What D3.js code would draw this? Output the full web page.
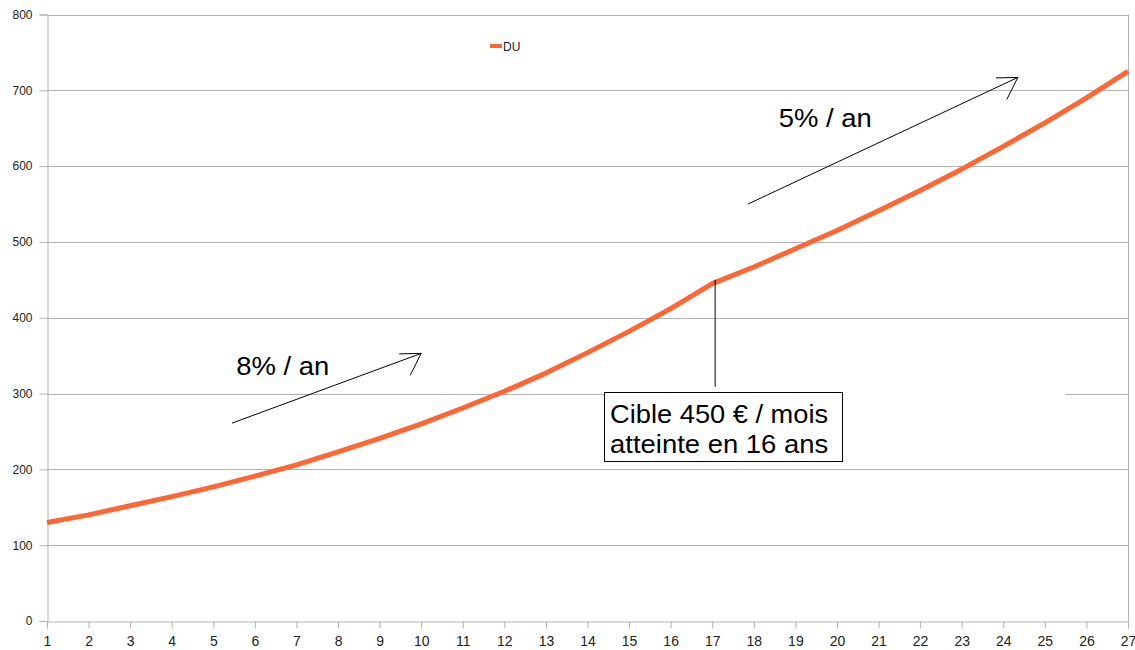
<!DOCTYPE html>
<html>
<head>
<meta charset="utf-8">
<script src="https://cdn.jsdelivr.net/npm/d3@7"></script>
<style>
  body { margin: 0; background: #fff; }
  svg { display: block; font-family: Arial, "Liberation Sans", sans-serif; }
</style>
</head>
<body>
<div id="chart"></div>
<script>
var years = d3.range(1, 28);
var du = [130, 140, 152, 164, 177, 191, 206, 223, 241, 260, 281, 303, 327, 354,
          382, 412, 445, 467, 491, 515, 541, 568, 596, 626, 657, 690, 725];
var yTicks = [0, 100, 200, 300, 400, 500, 600, 700, 800];
var seriesName = "DU";

var width = 1135, height = 650;
var margin = {top: 14.5, left: 47, right: 7, bottom: 29};

var svg = d3.select("#chart").append("svg")
    .attr("width", width)
    .attr("height", height);

var x = d3.scaleLinear().domain([1, 27]).range([margin.left, width - margin.right]);
var y = d3.scaleLinear().domain([0, 800]).range([height - margin.bottom, margin.top]);

var grid = "#b3b3b3";

// horizontal gridlines
svg.append("g").selectAll("line").data(yTicks.slice(1)).enter().append("line")
    .attr("x1", x(1)).attr("x2", x(27))
    .attr("y1", function (d) { return Math.round(y(d)) + 0.5; })
    .attr("y2", function (d) { return Math.round(y(d)) + 0.5; })
    .attr("stroke", grid);

// right border
svg.append("line")
    .attr("x1", Math.round(x(27)) + 0.5).attr("x2", Math.round(x(27)) + 0.5)
    .attr("y1", y(800)).attr("y2", y(0))
    .attr("stroke", grid);

// axes
var yAxis = d3.axisLeft(y).tickValues(yTicks).tickSize(8).tickPadding(7);
var gy = svg.append("g").attr("transform", "translate(" + (Math.round(x(1)) + 0.5) + ",0)").call(yAxis);
var xAxis = d3.axisBottom(x).tickValues(years).tickSize(7).tickPadding(8);
var gx = svg.append("g").attr("transform", "translate(0," + (Math.round(y(0)) + 0.5) + ")").call(xAxis);

[gx, gy].forEach(function (g) {
    g.select(".domain").attr("stroke", grid);
    g.selectAll(".tick line").attr("stroke", grid);
    g.selectAll(".tick text").attr("fill", "#222")
        .style("font-family", "Arial, 'Liberation Sans', sans-serif");
});
gy.selectAll(".tick text").style("font-size", "12px");
gx.selectAll(".tick text").style("font-size", "14px");

// piece of the 300 gridline hidden behind the annotation (as in the picture)
svg.append("rect")
    .attr("x", x(20.12)).attr("width", x(25.5) - x(20.12))
    .attr("y", y(300) - 2).attr("height", 4)
    .attr("fill", "#fff");

// series
var line = d3.line()
    .x(function (d, i) { return x(years[i]); })
    .y(function (d) { return y(d); });

svg.append("path")
    .datum(du)
    .attr("d", line)
    .attr("fill", "none")
    .attr("stroke", "#ff6633")
    .attr("stroke-width", 5)
    .attr("stroke-linejoin", "round");

// legend
var leg = svg.append("g").attr("transform", "translate(490,46)");
leg.append("line").attr("x1", 0).attr("x2", 12).attr("y1", 0).attr("y2", 0)
    .attr("stroke", "#ff6633").attr("stroke-width", 4);
leg.append("text").attr("x", 13).attr("y", 5).text(seriesName)
    .style("font-size", "12px").attr("fill", "#222");

// annotations, placed in data units
function arrow(x0, y0, x1, y1) {
    var px = x(x1), py = y(y1);
    svg.append("line")
        .attr("x1", x(x0)).attr("y1", y(y0)).attr("x2", px).attr("y2", py)
        .attr("stroke", "#000").attr("stroke-width", 1);
    // open "7" shaped head
    svg.append("path")
        .attr("d", "M" + (px - 22) + "," + (py + 0.5) + "L" + px + "," + py + "L" + (px - 11) + "," + (py + 22))
        .attr("fill", "none").attr("stroke", "#000").attr("stroke-width", 1);
}

arrow(5.45, 261, 10, 353);
arrow(17.86, 550, 24.35, 717);

// the picture's text is a bit wider than plain Arial, stretch it a little
function label(px, py, txt, len) {
    return svg.append("text").attr("x", px).attr("y", py).text(txt)
        .attr("textLength", len).attr("lengthAdjust", "spacingAndGlyphs")
        .style("font-size", "25px").attr("fill", "#000");
}

label(x(5.55), y(325), "8% / an", 93);
label(x(18.6), y(652), "5% / an", 93);

// target marker and box
svg.append("line")
    .attr("x1", x(17.07)).attr("x2", x(17.07))
    .attr("y1", y(450)).attr("y2", y(309))
    .attr("stroke", "#000").attr("stroke-width", 1);

var bx = x(14.4), by = y(302);
svg.append("rect")
    .attr("x", Math.round(bx) + 0.5).attr("y", Math.round(by) + 0.5)
    .attr("width", Math.round(x(20.12) - bx)).attr("height", Math.round(y(211) - by))
    .attr("fill", "#fff").attr("stroke", "#000").attr("stroke-width", 1);

label(bx + 6, by + 31, "Cible 450 € / mois", 218);
label(bx + 6, by + 61, "atteinte en 16 ans", 218);
</script>
</body>
</html>
